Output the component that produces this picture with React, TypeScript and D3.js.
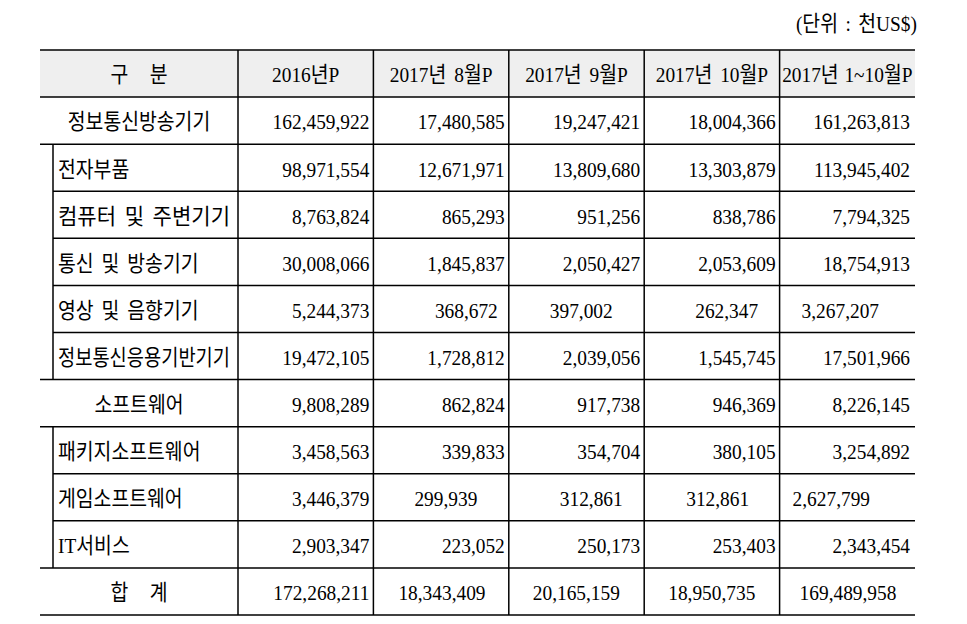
import React, { useEffect } from "react";
import * as d3 from "d3";

// ---------- data ----------
const unitLabel = "(단위 : 천US$)";
const headerLabel = "구 분";
const columns = ["2016년P", "2017년 8월P", "2017년 9월P", "2017년 10월P", "2017년 1~10월P"];
const categories = [
  "정보통신방송기기",
  "전자부품",
  "컴퓨터 및 주변기기",
  "통신 및 방송기기",
  "영상 및 음향기기",
  "정보통신응용기반기기",
  "소프트웨어",
  "패키지소프트웨어",
  "게임소프트웨어",
  "IT서비스",
  "합 계",
];
// 0 = group row (centered, full-width border), 1 = sub row (indented)
const levels = [0, 1, 1, 1, 1, 1, 0, 1, 1, 1, 0];
const v2016 = [162459922, 98971554, 8763824, 30008066, 5244373, 19472105, 9808289, 3458563, 3446379, 2903347, 172268211];
const vAug2017 = [17480585, 12671971, 865293, 1845837, 368672, 1728812, 862824, 339833, 299939, 223052, 18343409];
const vSep2017 = [19247421, 13809680, 951256, 2050427, 397002, 2039056, 917738, 354704, 312861, 250173, 20165159];
const vOct2017 = [18004366, 13303879, 838786, 2053609, 262347, 1545745, 946369, 380105, 312861, 253403, 18950735];
const vJanOct2017 = [161263813, 113945402, 7794325, 18754913, 3267207, 17501966, 8226145, 3254892, 2627799, 2343454, 169489958];
const series = [v2016, vAug2017, vSep2017, vOct2017, vJanOct2017];

// ---------- layout / style ----------
const W = 967;
const H = 624;
const LEFT = 40;
const INDENT = 53;
const FIRST_COL_END = 238;
const RIGHT = 915;
const TOP = 50;
const BOTTOM = 615;
const FONT = "'Liberation Serif', 'Noto Sans CJK KR', serif";
const FS = 22;
const SX = 0.88; // horizontal condensing
const STROKE = 1.5;

// irregular cell alignment seen in the source (row-col -> anchor & offset)
const cellAlign: Record<string, { anchor: "start" | "end"; dx: number }> = {
  "4-1": { anchor: "end", dx: 11 },
  "4-2": { anchor: "start", dx: 41 },
  "4-3": { anchor: "start", dx: 51 },
  "4-4": { anchor: "start", dx: 22 },
  "8-1": { anchor: "start", dx: 41 },
  "8-2": { anchor: "start", dx: 51 },
  "8-3": { anchor: "start", dx: 42 },
  "8-4": { anchor: "start", dx: 13 },
  "10-1": { anchor: "start", dx: 25 },
  "10-2": { anchor: "start", dx: 24 },
  "10-3": { anchor: "start", dx: 24 },
  "10-4": { anchor: "start", dx: 20 },
};

const fmt = d3.format(",");

function T(props: {
  x: number;
  y: number;
  anchor?: string;
  text: string;
  ws?: number;
  len?: number;
}) {
  const { x, y, anchor = "start", text, ws = 3.5, len } = props;
  return (
    <text
      transform={`translate(${x},${y}) scale(${len ? 1 : SX},1)`}
      textAnchor={anchor}
      fontFamily={FONT}
      fontSize={FS}
      fill="#000"
      style={{ whiteSpace: "pre", wordSpacing: `${ws}px` }}
      textLength={len}
      lengthAdjust={len ? "spacingAndGlyphs" : undefined}
    >
      {text}
    </text>
  );
}

export default function App() {
  useEffect(() => {
    document.body.style.margin = "0";
  }, []);

  const rowKeys = ["header", ...categories.map((_, i) => String(i))];
  const y = d3.scaleBand<string>().domain(rowKeys).range([TOP, BOTTOM]);
  const x = d3
    .scaleBand<string>()
    .domain(columns)
    .range([FIRST_COL_END, RIGHT]);
  const bw = y.bandwidth();
  const cw = x.bandwidth();
  const baseOff = bw / 2 + 8.8;

  const hLines: { y: number; x1: number }[] = [{ y: TOP, x1: LEFT }];
  categories.forEach((_, i) => {
    const yt = y(String(i))!;
    const startsGroup = levels[i] === 0 || (i > 0 && levels[i - 1] === 0);
    hLines.push({ y: yt, x1: startsGroup ? LEFT : INDENT });
  });
  hLines.push({ y: BOTTOM, x1: LEFT });

  // indent vertical segments: contiguous runs of sub rows
  const indentRuns: { y1: number; y2: number }[] = [];
  let runStart = -1;
  levels.forEach((lv, i) => {
    if (lv === 1 && runStart < 0) runStart = i;
    if ((lv !== 1 || i === levels.length - 1) && runStart >= 0) {
      const end = lv === 1 ? i : i - 1;
      indentRuns.push({ y1: y(String(runStart))!, y2: y(String(end))! + bw });
      runStart = -1;
    }
  });

  const colLines = [FIRST_COL_END, ...columns.slice(1).map((c) => x(c)!)];

  return (
    <svg width={W} height={H} style={{ display: "block" }}>
      <rect x={0} y={0} width={W} height={H} fill="#fff" />
      {/* unit label */}
      <T x={917} y={31} anchor="end" text={unitLabel} ws={3} />
      {/* header background */}
      <rect x={LEFT} y={TOP} width={RIGHT - LEFT} height={bw} fill="#efefef" />
      {/* lines */}
      {hLines.map((l, i) => (
        <line key={"h" + i} x1={l.x1} x2={RIGHT} y1={l.y} y2={l.y} stroke="#000" strokeWidth={STROKE} />
      ))}
      {colLines.map((cx, i) => (
        <line key={"v" + i} x1={cx} x2={cx} y1={TOP} y2={BOTTOM} stroke="#000" strokeWidth={STROKE} />
      ))}
      {indentRuns.map((r, i) => (
        <line key={"in" + i} x1={INDENT} x2={INDENT} y1={r.y1} y2={r.y2} stroke="#000" strokeWidth={STROKE} />
      ))}
      {/* header texts */}
      <T x={(LEFT + FIRST_COL_END) / 2} y={TOP + baseOff - 0.5} anchor="middle" text={headerLabel} ws={19} />
      {columns.map((c) => (
        <T key={c} x={x(c)! + cw / 2} y={TOP + baseOff - 0.5} anchor="middle" text={c} ws={c.includes("~") ? 1 : 3.5} />
      ))}
      {/* rows */}
      {categories.map((cat, i) => {
        const yt = y(String(i))! + baseOff;
        const isGroup = levels[i] === 0;
        const est = [...cat].length * FS * SX;
        const maxW = 172;
        return (
          <g key={cat}>
            {isGroup ? (
              <T x={(LEFT + FIRST_COL_END) / 2} y={yt} anchor="middle" text={cat} ws={cat.includes(" ") ? 19 : 3.5} />
            ) : (
              <T x={58} y={yt} text={cat} len={est > maxW + 5 ? maxW : undefined} />
            )}
            {series.map((vals, j) => {
              const left = x(columns[j])!;
              const right = left + cw;
              const al = cellAlign[`${i}-${j}`];
              const pad = j === columns.length - 1 ? 5 : 4;
              if (al) {
                return al.anchor === "start" ? (
                  <T key={j} x={left + al.dx} y={yt} text={fmt(vals[i])} />
                ) : (
                  <T key={j} x={right - al.dx} y={yt} anchor="end" text={fmt(vals[i])} />
                );
              }
              return <T key={j} x={right - pad} y={yt} anchor="end" text={fmt(vals[i])} />;
            })}
          </g>
        );
      })}
    </svg>
  );
}
